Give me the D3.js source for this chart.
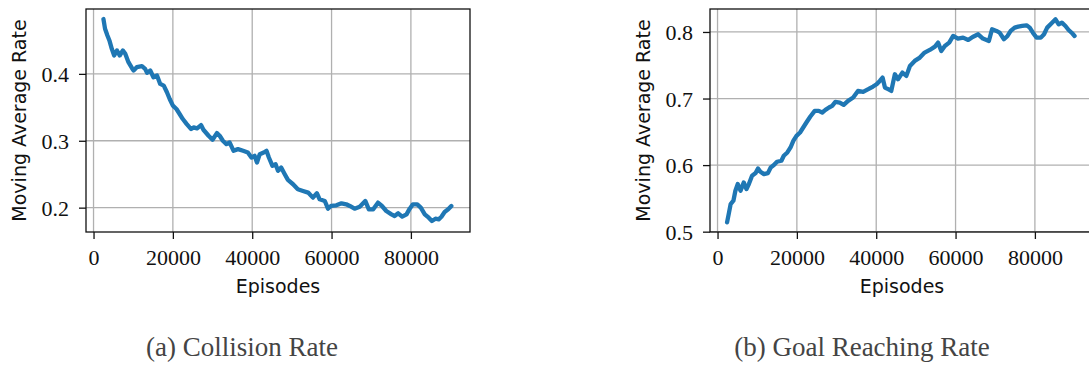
<!DOCTYPE html>
<html lang="en">
<head>
  <meta charset="UTF-8">
  <title>Moving Average Rates</title>
  <script src="https://d3js.org/d3.v7.min.js"></script>
  <style>
    body { margin: 0; background: #fff; }
    .tick text { font-family: "Liberation Serif", serif; font-size: 22px; fill: #111; }
    .axis-label { font-family: "DejaVu Sans", sans-serif; font-size: 19px; fill: #111; }
    .caption { font-family: "Liberation Serif", serif; font-size: 27px; fill: #444; }
  </style>
</head>
<body>
<div id="chart"></div>
<script>
// collision rate
const collisionEpisodes = [2500, 2900, 3500, 4000, 4600, 5200, 5900, 6600, 7400, 8000, 8800, 9700, 10100, 10900, 12200, 13000, 13500, 14300, 15100, 16000, 16800, 17700, 18500, 19200, 20000, 20900, 21700, 22500, 23500, 24600, 25200, 26100, 27100, 27700, 29000, 30000, 31100, 31800, 32600, 33500, 34300, 35300, 36400, 37700, 38900, 39800, 40600, 41200, 41900, 42900, 43600, 44200, 45100, 45900, 46500, 47300, 48200, 49000, 50300, 51500, 52800, 54100, 55300, 56300, 57000, 58300, 59100, 59900, 61200, 62500, 63700, 64600, 65800, 67100, 68500, 69400, 70500, 71700, 72700, 73800, 75100, 75900, 76800, 77800, 78900, 79700, 80500, 81600, 82500, 83500, 84500, 85300, 86200, 87000, 87700, 88500, 89400, 90200];
const collisionRate = [0.482, 0.4675, 0.4575, 0.45, 0.4375, 0.4275, 0.435, 0.4275, 0.435, 0.43, 0.4175, 0.4085, 0.405, 0.41, 0.4115, 0.4075, 0.4015, 0.405, 0.395, 0.3975, 0.385, 0.3825, 0.3725, 0.3625, 0.3525, 0.3475, 0.34, 0.3325, 0.325, 0.3175, 0.32, 0.3185, 0.3235, 0.3165, 0.3075, 0.3015, 0.3115, 0.3075, 0.30, 0.295, 0.2975, 0.285, 0.2875, 0.285, 0.2825, 0.275, 0.2775, 0.2675, 0.28, 0.2825, 0.285, 0.275, 0.2625, 0.265, 0.255, 0.26, 0.25, 0.2415, 0.235, 0.2275, 0.225, 0.2225, 0.215, 0.2215, 0.2125, 0.21, 0.1985, 0.2025, 0.2035, 0.2065, 0.205, 0.2025, 0.1985, 0.2015, 0.21, 0.1975, 0.1975, 0.2075, 0.2025, 0.195, 0.19, 0.1875, 0.1915, 0.1865, 0.19, 0.1985, 0.205, 0.205, 0.2, 0.19, 0.185, 0.18, 0.1835, 0.1825, 0.1865, 0.1935, 0.1975, 0.2025];

// goal reaching rate
const goalEpisodes = [2400, 2900, 3300, 4000, 4500, 5100, 5800, 6600, 7300, 7900, 8700, 9600, 10200, 10800, 11700, 12700, 13400, 14200, 15000, 16100, 16700, 17600, 18400, 19100, 19900, 20800, 21600, 22400, 23400, 24500, 25500, 26400, 27200, 28100, 28900, 29700, 30800, 31800, 32900, 34200, 35400, 36700, 38000, 39200, 40100, 40900, 41600, 42200, 43000, 43800, 44700, 45500, 46600, 47600, 48500, 49700, 51000, 52200, 53500, 54800, 55600, 56400, 57300, 58400, 59400, 60600, 61900, 63200, 64300, 65700, 66900, 68400, 69200, 70300, 71100, 72200, 73100, 73900, 74900, 75800, 76800, 77900, 78700, 79500, 80400, 81500, 82300, 83100, 84200, 85200, 86000, 86800, 87700, 88500, 89400, 90000];
const goalRate = [0.514, 0.529, 0.5415, 0.5465, 0.5615, 0.5715, 0.5615, 0.574, 0.564, 0.5715, 0.584, 0.588, 0.595, 0.59, 0.5865, 0.588, 0.5965, 0.60, 0.605, 0.6065, 0.614, 0.619, 0.6265, 0.6365, 0.644, 0.649, 0.6565, 0.664, 0.673, 0.6815, 0.6815, 0.679, 0.683, 0.6865, 0.689, 0.695, 0.694, 0.6905, 0.6965, 0.7015, 0.7115, 0.71, 0.714, 0.718, 0.7215, 0.7265, 0.7315, 0.7165, 0.714, 0.7115, 0.7365, 0.729, 0.739, 0.734, 0.749, 0.7565, 0.7615, 0.769, 0.773, 0.778, 0.784, 0.7715, 0.779, 0.784, 0.794, 0.79, 0.7915, 0.788, 0.7925, 0.7965, 0.79, 0.7865, 0.804, 0.8015, 0.799, 0.789, 0.794, 0.8015, 0.8065, 0.808, 0.809, 0.81, 0.8065, 0.799, 0.7915, 0.7915, 0.7965, 0.8065, 0.813, 0.819, 0.8115, 0.814, 0.809, 0.803, 0.798, 0.794];

const xTicks = [0, 20000, 40000, 60000, 80000];
const collisionTicks = [0.2, 0.3, 0.4];
const goalTicks = [0.5, 0.6, 0.7, 0.8];
const captions = ["(a) Collision Rate", "(b) Goal Reaching Rate"];

const W = 1089, H = 367;
const svg = d3.select("#chart").append("svg")
  .attr("width", W).attr("height", H);
svg.append("rect").attr("width", W).attr("height", H).attr("fill", "#fff");

const pw = 384, ph = 223, panelTop = 9;

function drawPanel(left, xs, ys, yDomain, yTicks, capX, caption) {
  const g = svg.append("g").attr("transform", `translate(${left},${panelTop})`);
  const x = d3.scaleLinear().domain([-1900, 94900]).range([0, pw]);
  const y = d3.scaleLinear().domain(yDomain).range([ph, 0]);

  // grid
  g.selectAll(".vg").data(xTicks).enter().append("line")
    .attr("x1", d => x(d)).attr("x2", d => x(d))
    .attr("y1", 0).attr("y2", ph)
    .attr("stroke", "#b0b0b0").attr("stroke-width", 1.3);
  g.selectAll(".hg").data(yTicks).enter().append("line")
    .attr("x1", 0).attr("x2", pw)
    .attr("y1", d => y(d)).attr("y2", d => y(d))
    .attr("stroke", "#b0b0b0").attr("stroke-width", 1.3);

  const pts = xs.map((e, i) => [e, ys[i]]);
  g.append("path").datum(pts)
    .attr("fill", "none")
    .attr("stroke", "#1f77b4")
    .attr("stroke-width", 4.3)
    .attr("stroke-linejoin", "round")
    .attr("stroke-linecap", "round")
    .attr("d", d3.line().x(d => x(d[0])).y(d => y(d[1])));

  // axes
  const xa = g.append("g").attr("transform", `translate(0,${ph})`)
    .call(d3.axisBottom(x).tickValues(xTicks).tickFormat(d3.format("d")).tickSize(7).tickPadding(10));
  const ya = g.append("g")
    .call(d3.axisLeft(y).tickValues(yTicks).tickFormat(d3.format(".1f")).tickSize(7).tickPadding(10));
  [xa, ya].forEach(a => {
    a.select(".domain").remove();
    a.selectAll(".tick line").attr("stroke", "#111").attr("stroke-width", 1.3);
  });
  ya.selectAll(".tick text").attr("dy", "0.34em");

  g.append("rect").attr("width", pw).attr("height", ph)
    .attr("fill", "none").attr("stroke", "#111").attr("stroke-width", 1.3);

  g.append("text").attr("class", "axis-label")
    .attr("x", pw / 2).attr("y", 284)
    .attr("text-anchor", "middle").text("Episodes");
  g.append("text").attr("class", "axis-label")
    .attr("transform", `translate(-60,${ph / 2}) rotate(-90)`)
    .attr("text-anchor", "middle").text("Moving Average Rate");

  svg.append("text").attr("class", "caption")
    .attr("x", capX).attr("y", 356)
    .attr("text-anchor", "middle").text(caption);
}

drawPanel(86, collisionEpisodes, collisionRate, [0.1636, 0.497], collisionTicks, 242, captions[0]);
drawPanel(710, goalEpisodes, goalRate, [0.4995, 0.8345], goalTicks, 862, captions[1]);
</script>
</body>
</html>
